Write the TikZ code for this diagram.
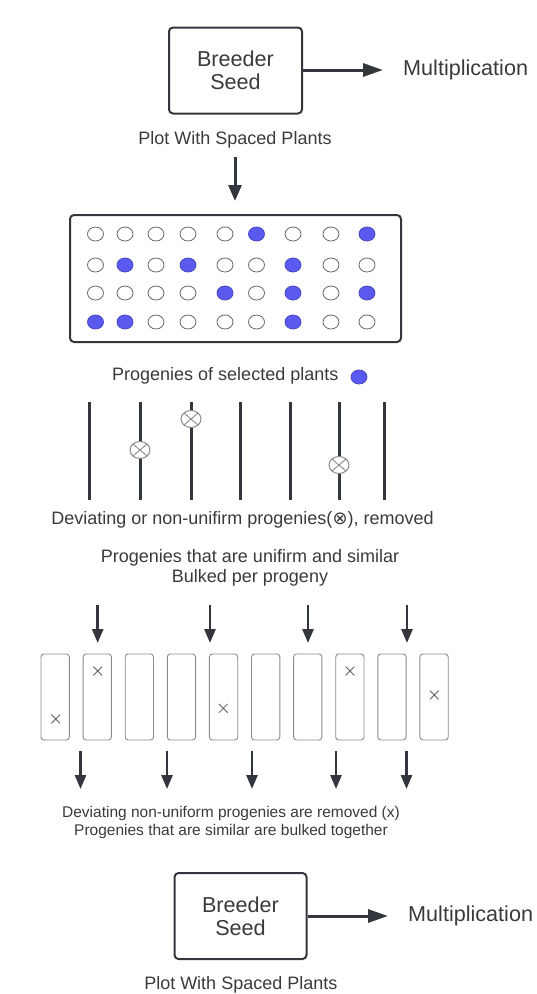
\documentclass[tikz,border=0pt]{standalone}
\usepackage{fontspec}
\setmainfont{Liberation Sans}
\newfontfamily\symfnt{DejaVu Sans}
\usetikzlibrary{arrows.meta,shapes.geometric,shapes.misc}
\definecolor{ink}{HTML}{33373D}
\definecolor{txt}{HTML}{3A3A3A}
\definecolor{dotblue}{HTML}{5A5AF0}
\definecolor{rim}{HTML}{8A8A8A}
\begin{document}
\begin{tikzpicture}[x=1pt,y=-1pt,
  bigtxt/.style={text=txt, font=\fontsize{21.6}{23}\selectfont, inner sep=0pt},
  midtxt/.style={text=txt, font=\fontsize{18}{20}\selectfont, inner sep=0pt, align=center},
  smalltxt/.style={text=txt, font=\fontsize{15.5}{18}\selectfont, inner sep=0pt, align=center},
  seedbox/.style={draw=ink, line width=2pt, rounded corners=4pt, minimum width=133pt, minimum height=86pt, align=center, bigtxt},
  bigarrow/.style={draw=ink, line width=3pt, -{Triangle[length=20pt,width=13pt]}},
  downarrow/.style={draw=ink, line width=2.6pt, -{Triangle[length=14pt,width=11pt]}},
  plant/.style={ellipse, draw=ink!75, line width=0.8pt, minimum width=16pt, minimum height=14pt, inner sep=0pt},
  chosen/.style={plant, fill=dotblue, draw=dotblue!80!black},
  stem/.style={draw=ink, line width=3pt},
  rogue/.style={ellipse, draw=rim, fill=white, line width=1pt, minimum width=20pt, minimum height=17pt, inner sep=0pt,
    path picture={\draw[rim, line width=0.9pt] (path picture bounding box.north west) -- (path picture bounding box.south east)
      (path picture bounding box.north east) -- (path picture bounding box.south west);}},
  bulk/.style={draw=rim, line width=0.9pt, rounded corners=3pt, minimum width=28.3pt, minimum height=86pt, inner sep=0pt},
  xmark/.style={cross out, draw=ink!80, line width=0.8pt, minimum size=8pt, inner sep=0pt}
]
\useasboundingbox (0,0) rectangle (536,994);

% ---------- top section ----------
\node[seedbox] (seed1) at (235.5,70.5) {Breeder\\Seed};
\coordinate (m1end) at (383,70);
\draw[bigarrow] (seed1.east |- m1end) -- (m1end);
\node[bigtxt, anchor=west] (mult1) at (403,70) {Multiplication};
\node[midtxt] (plot1) at (235,140) {Plot With Spaced Plants};
\coordinate (d1s) at (235,157);
\coordinate (d1e) at (235,201);
\draw[bigarrow, -{Triangle[length=16pt,width=13pt]}] (d1s) -- (d1e);

% ---------- field of spaced plants ----------
\node[draw=ink, line width=2pt, rounded corners=4pt, minimum width=331pt, minimum height=127pt, inner sep=0pt] (field) at (235.5,278.5) {};
\def\colx{{95.5,125,156,188,225,256.5,293,331,367}}
\def\rowy{{234,265,293,322}}
% filled positions: row1: 6,9 ; row2: 2,4,7 ; row3: 5,7,9 ; row4: 1,2,7
\foreach \r/\filled in {1/{6,9}, 2/{2,4,7}, 3/{5,7,9}, 4/{1,2,7}} {
  \foreach \c in {1,...,9} {
    \pgfmathsetmacro{\xx}{\colx[\c-1]}
    \pgfmathsetmacro{\yy}{\rowy[\r-1]}
    \gdef\sty{plant}
    \foreach \f in \filled {\ifnum\f=\c\relax\xdef\sty{chosen}\fi}
    \node[\sty] (p-\r-\c) at (\xx,\yy) {};
  }
}

\node[midtxt, anchor=west] (prog) at (112,376) {Progenies of selected plants};
\node[chosen] (legenddot) at (359,377) {};

% ---------- progeny rows ----------
\foreach \i/\x in {1/89,2/140,3/191,4/240.7,5/290,6/339,7/384.3} {
  \coordinate (st\i) at (\x,402);
  \coordinate (sb\i) at (\x,500);
  \draw[stem] (st\i) -- (sb\i);
}
\node[rogue] (r2) at (140,450) {};
\node[rogue] (r3) at (191,419) {};
\node[rogue] (r6) at (339,465) {};

\node[midtxt] (devtxt) at (242.5,520) {Deviating or non-unifirm progenies({\symfnt ⊗}), removed};
\node[midtxt, text depth=0pt] (simtxt) at (250,566) {Progenies that are unifirm and similar\\Bulked per progeny};

% ---------- bulked plots ----------
\foreach \i in {1,...,10} {
  \pgfmathsetmacro{\bx}{55.15+42.1*(\i-1)}
  \node[bulk] (b\i) at (\bx,697) {};
}
\foreach \n/\x in {1/97.7,2/210,3/308,4/407} {
  \coordinate (ta\n) at (\x,605);
  \coordinate (tb\n) at (\x,643);
  \draw[downarrow] (ta\n) -- (tb\n);
}
\node[xmark] (x1) at (55.7,719) {};
\node[xmark] (x2) at (97.7,671) {};
\node[xmark] (x5) at (223.3,708.3) {};
\node[xmark] (x8) at (350,671) {};
\node[xmark] (x10) at (434.3,695) {};
\foreach \n/\x in {1/80.5,2/167,3/252,4/336,5/406.5} {
  \coordinate (ba\n) at (\x,751);
  \coordinate (bb\n) at (\x,789);
  \draw[downarrow] (ba\n) -- (bb\n);
}
\node[smalltxt] (bottxt) at (231,822) {Deviating non-uniform progenies are removed (x)\\Progenies that are similar are bulked together};

% ---------- bottom section ----------
\node[seedbox, minimum width=132pt] (seed2) at (240.5,916) {Breeder\\Seed};
\coordinate (m2end) at (388,916);
\draw[bigarrow] (seed2.east |- m2end) -- (m2end);
\node[bigtxt, anchor=west] (mult2) at (408,916) {Multiplication};
\node[midtxt] (plot2) at (240.8,985) {Plot With Spaced Plants};
\end{tikzpicture}
\end{document}
